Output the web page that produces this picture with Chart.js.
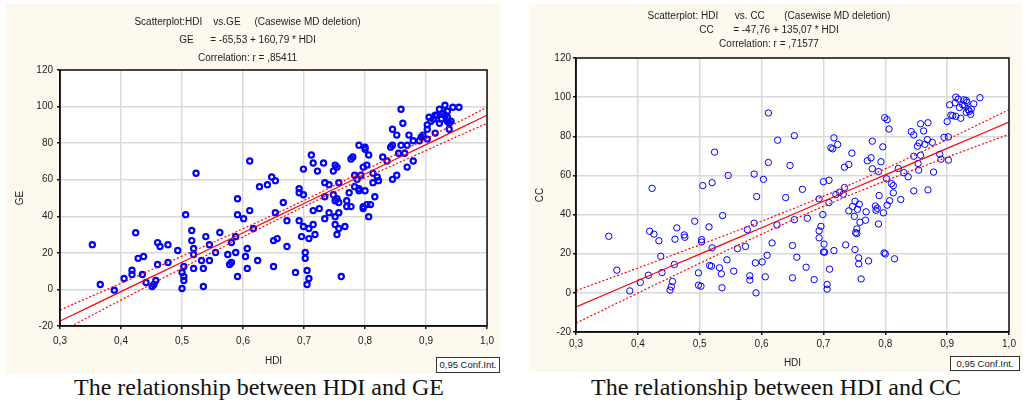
<!DOCTYPE html>
<html>
<head>
<meta charset="utf-8">
<script src="https://cdn.jsdelivr.net/npm/chart.js@4.4.0/dist/chart.umd.min.js"></script>
<style>
  html, body { margin: 0; padding: 0; background: #fff; }
  body { width: 1025px; height: 403px; position: relative; overflow: hidden; font-family: "Liberation Sans", Arial, sans-serif; }
  .panel { position: absolute; background: #fdf9ee; }
  .panel canvas { display: block; }
  .conf { position: absolute; box-sizing: border-box; border: 1px solid #333; background: #fff; color: #222;
          font-size: 9.5px; text-align: center; white-space: nowrap; }
  .caption { position: absolute; font-family: "Liberation Serif", "Times New Roman", serif; font-size: 24px;
             line-height: 24px; color: #111; text-align: center; white-space: nowrap; }
</style>
</head>
<body>
<div class="panel" style="left:6px; top:4px; width:494px; height:370px;">
  <canvas id="geChart" width="494" height="370"></canvas>
</div>
<div class="panel" style="left:529px; top:4px; width:493px; height:368px;">
  <canvas id="ccChart" width="493" height="368"></canvas>
</div>
<div class="conf" style="left:436px; top:357px; width:64px; height:16px; line-height:14px;">0,95 Conf.Int.</div>
<div class="conf" style="left:950px; top:356px; width:70px; height:15px; line-height:13px;">0,95 Conf.Int.</div>
<div class="caption" style="left:0px; top:375px; width:518px;">The relationship between HDI and GE</div>
<div class="caption" style="left:529px; top:375px; width:494px;">The relationship between HDI and CC</div>

<script>
// HDI vs GE scatter
const geHdi = [
  0.353, 0.366, 0.389, 0.405, 0.418, 0.418, 0.424, 0.428, 0.435, 0.437,
  0.441, 0.451, 0.454, 0.457, 0.460, 0.464, 0.460, 0.477, 0.477, 0.493,
  0.500, 0.500, 0.503, 0.503, 0.503, 0.506, 0.516, 0.516, 0.519, 0.519,
  0.519, 0.532, 0.535, 0.535, 0.539, 0.545, 0.545, 0.555, 0.562, 0.575,
  0.578, 0.581, 0.581, 0.588, 0.588, 0.591, 0.591, 0.591, 0.601, 0.604,
  0.607, 0.607, 0.611, 0.617, 0.627, 0.624, 0.640, 0.650, 0.650, 0.653,
  0.656, 0.653, 0.666, 0.672, 0.672, 0.686, 0.692, 0.692, 0.692, 0.696,
  0.699, 0.699, 0.702, 0.702, 0.705, 0.705, 0.708, 0.708, 0.708, 0.715,
  0.715, 0.718, 0.725, 0.734, 0.734, 0.734, 0.741, 0.741, 0.748, 0.751,
  0.751, 0.751, 0.754, 0.754, 0.757, 0.757, 0.757, 0.757, 0.761, 0.767,
  0.770, 0.770, 0.774, 0.777, 0.783, 0.787, 0.790, 0.790, 0.797, 0.797,
  0.800, 0.803, 0.806, 0.809, 0.813, 0.816, 0.822, 0.845, 0.523, 0.611,
  0.647, 0.699, 0.712, 0.715, 0.722, 0.732, 0.748, 0.751, 0.754, 0.777,
  0.780, 0.783, 0.790, 0.793, 0.797, 0.800, 0.800, 0.803, 0.806, 0.813,
  0.820, 0.829, 0.836, 0.842, 0.845, 0.845, 0.852, 0.852, 0.855, 0.859,
  0.859, 0.862, 0.865, 0.869, 0.869, 0.872, 0.879, 0.879, 0.889, 0.892,
  0.895, 0.902, 0.902, 0.902, 0.905, 0.908, 0.912, 0.915, 0.915, 0.918,
  0.922, 0.922, 0.925, 0.928, 0.931, 0.931, 0.935, 0.935, 0.935, 0.938,
  0.938, 0.941, 0.944, 0.954
];
const geValues = [
  24.5, 2.7, -0.4, 6.0, 10.5, 8.2, 31.0, 17.0, 8.2, 18.0,
  3.8, 1.6, 2.7, 4.9, 25.6, 23.5, 13.6, 24.5, 14.7, 21.3,
  9.3, 0.5, 12.5, 7.1, 4.9, 40.9, 32.2, 26.7, 22.4, 19.1,
  11.5, 15.8, 11.5, 1.6, 28.9, 24.5, 15.8, 20.2, 31.1, 19.1,
  13.6, 14.7, 25.6, 28.9, 20.2, 49.6, 40.9, 7.1, 38.7, 18.0,
  22.4, 11.5, 43.1, 33.3, 56.2, 15.8, 57.3, 12.5, 26.7, 42.0,
  27.8, 59.5, 47.5, 37.6, 23.5, 9.3, 55.1, 52.9, 37.6, 28.9,
  51.8, 34.4, 20.2, 17.0, 10.4, 2.7, 33.3, 27.8, 6.0, 43.1,
  35.5, 30.0, 44.2, 58.4, 50.7, 38.7, 57.3, 42.0, 51.8, 48.5,
  39.8, 35.5, 49.6, 30.0, 47.5, 42.0, 33.3, 58.4, 7.1, 34.4,
  48.5, 45.3, 52.9, 45.3, 56.2, 60.2, 55.1, 54.0, 45.3, 44.2,
  54.0, 46.4, 39.8, 46.4, 58.4, 50.7, 59.5, 60.2, 63.5, 70.2,
  61.5, 65.8, 73.5, 69.1, 64.7, 69.1, 64.7, 68.0, 66.9, 71.3,
  72.4, 62.5, 78.9, 62.5, 66.9, 77.8, 76.7, 68.0, 73.5, 63.6,
  61.5, 72.4, 70.2, 77.8, 78.9, 87.6, 84.4, 62.5, 74.5, 98.5,
  78.9, 90.9, 74.5, 78.9, 66.9, 84.4, 81.3, 70.2, 81.3, 83.3,
  84.4, 90.0, 87.6, 82.2, 94.2, 92.0, 93.1, 85.5, 95.3, 95.3,
  98.5, 90.9, 93.1, 96.4, 100.7, 95.3, 97.5, 94.2, 92.0, 87.6,
  90.9, 92.0, 99.6, 99.6
];

// HDI vs CC scatter
const ccHdi = [
  0.353, 0.366, 0.387, 0.404, 0.417, 0.419, 0.423, 0.426, 0.434, 0.437,
  0.439, 0.452, 0.454, 0.456, 0.459, 0.460, 0.463, 0.475, 0.476, 0.492,
  0.498, 0.498, 0.502, 0.503, 0.503, 0.505, 0.515, 0.516, 0.519, 0.520,
  0.520, 0.532, 0.535, 0.536, 0.537, 0.544, 0.555, 0.561, 0.574, 0.577,
  0.581, 0.581, 0.588, 0.590, 0.591, 0.592, 0.601, 0.606, 0.609, 0.617,
  0.625, 0.639, 0.650, 0.650, 0.653, 0.657, 0.666, 0.672, 0.674, 0.685,
  0.693, 0.693, 0.693, 0.696, 0.699, 0.701, 0.700, 0.702, 0.706, 0.706,
  0.709, 0.710, 0.717, 0.720, 0.726, 0.732, 0.734, 0.736, 0.741, 0.747,
  0.750, 0.751, 0.751, 0.752, 0.754, 0.754, 0.755, 0.758, 0.757, 0.757,
  0.759, 0.761, 0.768, 0.769, 0.773, 0.784, 0.785, 0.787, 0.789, 0.790,
  0.797, 0.798, 0.800, 0.803, 0.807, 0.810, 0.813, 0.813, 0.815, 0.825,
  0.846, 0.869, 0.524, 0.546, 0.588, 0.603, 0.611, 0.611, 0.626, 0.646,
  0.653, 0.700, 0.709, 0.712, 0.715, 0.717, 0.723, 0.734, 0.741, 0.746,
  0.771, 0.777, 0.779, 0.779, 0.789, 0.793, 0.796, 0.799, 0.803, 0.806,
  0.802, 0.821, 0.830, 0.837, 0.842, 0.846, 0.846, 0.852, 0.853, 0.854,
  0.855, 0.857, 0.857, 0.862, 0.864, 0.868, 0.869, 0.876, 0.878, 0.888,
  0.890, 0.895, 0.902, 0.902, 0.900, 0.904, 0.906, 0.909, 0.913, 0.914,
  0.914, 0.918, 0.920, 0.922, 0.925, 0.927, 0.928, 0.931, 0.931, 0.932,
  0.934, 0.936, 0.938, 0.939, 0.943, 0.953
];
const ccValues = [
  28.9, 11.6, 1.0, 5.3, 9.0, 31.5, 53.4, 30.0, 26.6, 18.7,
  10.4, 1.4, 3.1, 5.8, 14.5, 27.4, 33.2, 29.6, 28.4, 36.6,
  10.2, 3.9, 3.4, 27.2, 26.0, 54.8, 33.7, 14.0, 13.6, 23.0,
  56.3, 12.8, 9.7, 2.6, 39.5, 16.9, 11.1, 22.6, 23.7, 32.3,
  8.7, 6.5, 35.6, 15.3, 0.0, 49.2, 15.8, 8.2, 19.2, 25.5,
  34.7, 48.7, 24.2, 7.7, 37.4, 18.2, 52.9, 13.1, 38.1, 6.8,
  48.0, 28.1, 31.7, 34.0, 40.0, 24.9, 20.9, 20.8, 4.3, 1.9,
  46.1, 12.1, 21.6, 50.2, 51.4, 50.4, 53.8, 24.5, 41.9, 44.1,
  39.1, 46.8, 22.1, 30.8, 30.3, 32.7, 42.7, 45.3, 17.9, 14.8,
  36.1, 7.1, 37.1, 41.4, 16.3, 44.4, 42.2, 43.2, 35.2, 49.7,
  40.9, 20.4, 19.9, 44.8, 47.1, 55.8, 54.8, 51.1, 17.4, 47.7,
  52.1, 52.6, 71.9, 60.0, 60.7, 58.0, 91.9, 66.6, 78.0, 65.1,
  80.3, 56.8, 57.5, 74.1, 73.6, 79.2, 75.8, 64.2, 65.6, 71.4,
  67.5, 69.0, 63.4, 77.5, 62.0, 67.0, 74.6, 89.5, 88.5, 83.7,
  58.3, 63.6, 61.4, 59.3, 82.4, 80.7, 69.8, 74.9, 66.1, 62.7,
  76.6, 86.4, 70.3, 82.7, 75.9, 78.3, 86.9, 76.9, 61.7, 70.8,
  68.3, 79.5, 79.7, 67.8, 87.5, 96.1, 90.8, 90.5, 97.1, 100.0,
  90.2, 99.0, 94.7, 89.2, 96.1, 98.6, 95.6, 98.3, 92.2, 97.3,
  93.6, 92.7, 91.2, 93.9, 96.6, 99.7
];

// regression line and 0,95 confidence band, read at these HDI values
const bandHdi = [0.3, 0.4, 0.5, 0.6, 0.7, 0.8, 0.9, 1.0];
const geFit = [-17.3, -1.2, 14.9, 31.0, 47.0, 63.1, 79.2, 95.3];
const geUpper = [-11.3, 3.4, 18.2, 33.2, 48.7, 65.2, 82.4, 99.7];
const geLower = [-23.3, -5.8, 11.6, 28.8, 45.3, 61.0, 76.0, 90.9];
const ccFit = [-7.2, 6.3, 19.8, 33.3, 46.8, 60.3, 73.8, 87.3];
const ccUpper = [1.1, 12.7, 24.5, 36.6, 49.4, 63.4, 78.3, 93.6];
const ccLower = [-15.5, -0.1, 15.1, 30.0, 44.2, 57.2, 69.3, 81.0];

const geTitle = [
  "Scatterplot:HDI    vs.GE     (Casewise MD deletion)",
  "GE      = -65,53 + 160,79 * HDI",
  "Correlation: r = ,85411"
];
const ccTitle = [
  "Scatterplot: HDI      vs. CC       (Casewise MD deletion)",
  "CC       = -47,76 + 135,07 * HDI",
  "Correlation: r = ,71577"
];

const toPoints = (xs, ys) => xs.map((x, i) => ({ x: x, y: ys[i] }));

// white plot area + closed frame around it
const plotFrame = {
  id: "plotFrame",
  beforeDraw(chart) {
    const { ctx, chartArea: a } = chart;
    ctx.save();
    ctx.fillStyle = "#ffffff";
    ctx.fillRect(a.left, a.top, a.right - a.left, a.bottom - a.top);
    ctx.restore();
  },
  afterDraw(chart) {
    const { ctx, chartArea: a } = chart;
    ctx.save();
    ctx.strokeStyle = "#111";
    ctx.lineWidth = 1.5;
    ctx.strokeRect(a.left, a.top, a.right - a.left, a.bottom - a.top);
    ctx.restore();
  },
};

const drawScatter = (id, cfg) => {
  const ctx = document.getElementById(id).getContext("2d");
  const lineStyle = (data, dash) => ({
    type: "line",
    data: toPoints(bandHdi, data),
    borderColor: "#ff0000",
    borderWidth: 1.2,
    borderDash: dash,
    pointRadius: 0,
    tension: 0.4,
    fill: false,
  });
  return new Chart(ctx, {
    type: "scatter",
    data: {
      datasets: [
        lineStyle(cfg.fit, []),
        lineStyle(cfg.upper, [2, 2]),
        lineStyle(cfg.lower, [2, 2]),
        {
          data: toPoints(cfg.hdi, cfg.values),
          borderColor: "#0000ff",
          backgroundColor: "rgba(0,0,0,0)",
          borderWidth: cfg.pointBorder,
          pointRadius: cfg.pointRadius,
        },
      ],
    },
    options: {
      responsive: false,
      animation: false,
      layout: { padding: { left: 0, right: cfg.padRight, top: 0, bottom: 0 } },
      plugins: {
        legend: { display: false },
        tooltip: { enabled: false },
        title: {
          display: true,
          text: cfg.title,
          color: "#222",
          font: { family: "Liberation Sans, Arial, sans-serif", size: 10, weight: "normal", lineHeight: cfg.titleLine },
          padding: { top: cfg.titleTop, bottom: cfg.titleBottom },
        },
      },
      scales: {
        x: {
          type: "linear",
          min: 0.3,
          max: 1.0,
          afterFit: (scale) => { scale.height = cfg.xHeight; },
          ticks: {
            stepSize: 0.1,
            color: "#222",
            padding: cfg.xTickPad,
            font: { family: "Liberation Sans, Arial, sans-serif", size: 10 },
            callback: (v) => v.toFixed(1).replace(".", ","),
          },
          grid: { color: "#d9d9d9", lineWidth: 1.5, tickLength: 3, tickColor: "#111" },
          border: { color: "#111", width: 1.5 },
          title: {
            display: true,
            text: "HDI",
            color: "#222",
            font: { family: "Liberation Sans, Arial, sans-serif", size: 10 },
            padding: { top: 0, bottom: cfg.xTitlePad },
          },
        },
        y: {
          min: -20,
          max: 120,
          afterFit: (scale) => { scale.width = cfg.yWidth; },
          ticks: {
            stepSize: 20,
            color: "#222",
            padding: cfg.yTickPad,
            font: { family: "Liberation Sans, Arial, sans-serif", size: 10 },
          },
          grid: { color: "#d9d9d9", lineWidth: 1.5, tickLength: 3, tickColor: "#111" },
          border: { color: "#111", width: 1.5 },
          title: {
            display: true,
            text: cfg.yLabel,
            color: "#222",
            font: { family: "Liberation Sans, Arial, sans-serif", size: 10 },
            padding: { top: cfg.yTitlePad, bottom: 0 },
          },
        },
      },
    },
    plugins: [plotFrame],
  });
};

drawScatter("geChart", {
  hdi: geHdi, values: geValues, fit: geFit, upper: geUpper, lower: geLower,
  title: geTitle, yLabel: "GE",
  pointRadius: 2.6, pointBorder: 2.2,
  titleLine: 1.8, titleTop: 9, titleBottom: 3,
  yWidth: 54, padRight: 11, xHeight: 48,
  xTickPad: 6, yTickPad: 4, xTitlePad: 7, yTitlePad: 8,
});

drawScatter("ccChart", {
  hdi: ccHdi, values: ccValues, fit: ccFit, upper: ccUpper, lower: ccLower,
  title: ccTitle, yLabel: "CC",
  pointRadius: 3.2, pointBorder: 1,
  titleLine: 1.4, titleTop: 5, titleBottom: 7,
  yWidth: 47, padRight: 13, xHeight: 40,
  xTickPad: 3, yTickPad: 2, xTitlePad: 3, yTitlePad: 5,
});
</script>
</body>
</html>
